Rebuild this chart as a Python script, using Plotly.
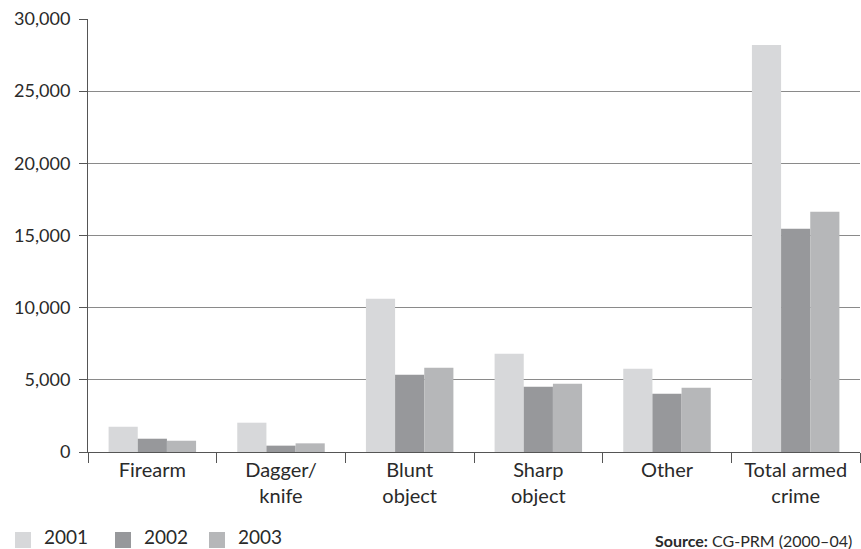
import plotly.graph_objects as go

categories = ["Firearm", "Dagger/<br>knife", "Blunt<br>object", "Sharp<br>object", "Other", "Total armed<br>crime"]
years = ["2001", "2002", "2003"]
values_2001 = [1750, 2030, 10620, 6810, 5770, 28200]
values_2002 = [920, 440, 5350, 4520, 4040, 15470]
values_2003 = [780, 600, 5840, 4730, 4450, 16640]
colors = ["#d7d8da", "#97989b", "#b6b7b9"]

FONT = "Lato"
W, H = 861, 549
ML, MR, MT, MB = 88, 1, 19, 97
PW, PH = W - ML - MR, H - MT - MB
fig = go.Figure()
for name, vals, col in zip(years, [values_2001, values_2002, values_2003], colors):
    fig.add_trace(go.Bar(x=categories, y=vals, name=name, marker=dict(color=col, line=dict(width=0))))

fig.update_layout(
    width=W, height=H,
    margin=dict(l=ML, r=MR, t=MT, b=MB),
    paper_bgcolor="white", plot_bgcolor="white",
    barmode="group", bargap=0.32, bargroupgap=0,
    font=dict(family=FONT, size=18, color="#2a2a2a"),
    showlegend=False,
    xaxis=dict(type="category", tickson="boundaries", ticks="outside", ticklen=10,
               tickcolor="#555", tickwidth=1, showline=True, linecolor="#555", linewidth=1,
               showgrid=False, tickfont=dict(size=20), automargin=False),
    yaxis=dict(range=[0, 30000], tickvals=[0, 5000, 10000, 15000, 20000, 25000, 30000],
               tickformat=",d", ticks="outside", ticklen=8, tickcolor="#555",
               showline=True, linecolor="#555", linewidth=1, ticklabelstandoff=5,
               showgrid=True, gridcolor="#8a8a8a", gridwidth=1, zeroline=False,
               tickfont=dict(size=18), automargin=False),
)

# legend drawn as squares + labels
leg_x = [15, 115, 209]
for name, col, lx in zip(years, colors, leg_x):
    fig.add_shape(type="rect", xref="paper", yref="paper",
                  x0=(lx - ML) / PW, x1=(lx + 16 - ML) / PW,
                  y0=(H - MB - 548) / PH, y1=(H - MB - 532) / PH,
                  fillcolor=col, line=dict(width=0))
    fig.add_annotation(xref="paper", yref="paper",
                       x=(lx + 28 - ML) / PW, y=(H - MB - 549) / PH,
                       xanchor="left", yanchor="bottom", text=name, showarrow=False,
                       borderpad=0,
                       font=dict(family=FONT, size=19, color="#2a2a2a"))

fig.add_annotation(xref="paper", yref="paper",
                   x=(853 - ML) / PW, y=(H - MB - 540) / PH,
                   xanchor="right", yanchor="middle", borderpad=0,
                   text="<b>Source:</b> CG-PRM (2000–04)", showarrow=False,
                   font=dict(family=FONT, size=16, color="#2a2a2a"))
fig.write_html("out.html", config={"displayModeBar": False},
               post_script="document.body.style.margin='0';document.body.style.overflow='hidden';")
